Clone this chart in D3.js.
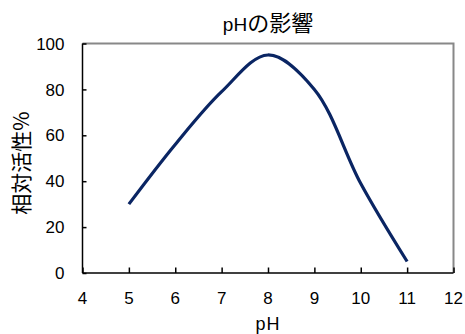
<!DOCTYPE html>
<html>
<head>
<meta charset="utf-8">
<script src="https://cdn.jsdelivr.net/npm/d3@7"></script>
<style>
  html, body { margin: 0; padding: 0; background: #fff; }
  svg { display: block; }
</style>
</head>
<body>
<svg id="chart" width="465" height="334"></svg>
<script>
// pH values and relative activity (%)
const phValues = [5, 6, 7, 8, 9, 10, 11];
const activity = [30, 56, 79, 95, 80, 39, 5];
const xTicks = [4, 5, 6, 7, 8, 9, 10, 11, 12];
const yTicks = [0, 20, 40, 60, 80, 100];

const latin = "'Liberation Sans', Arial, sans-serif";
const cjk = "'Noto Sans CJK JP', 'Liberation Sans', sans-serif";

const svg = d3.select("#chart");
const plot = { left: 82.5, right: 453.5, top: 43.5, bottom: 273 };

const x = d3.scaleLinear().domain([4, 12]).range([plot.left, plot.right]);
const y = d3.scaleLinear().domain([0, 100]).range([plot.bottom, plot.top]);

// plot-area frame: grey top and right edges
svg.append("path")
  .attr("d", `M${plot.left},${plot.top}H${plot.right}V${plot.bottom}`)
  .attr("fill", "none")
  .attr("stroke", "#888")
  .attr("stroke-width", 2);

// y axis, ticks pointing into the plot
const yAxis = svg.append("g")
  .attr("transform", `translate(${plot.left},0)`)
  .call(d3.axisRight(y).tickValues(yTicks).tickSize(4).tickFormat(""));
yAxis.select(".domain").attr("d", `M0,${plot.top}V${plot.bottom}`);
yAxis.selectAll("path, line").attr("stroke", "#000").attr("stroke-width", 1.5);

svg.append("g").selectAll("text")
  .data(yTicks)
  .join("text")
  .attr("x", plot.left - 18)
  .attr("y", d => y(d))
  .attr("dy", "0.36em")
  .attr("text-anchor", "end")
  .attr("font-family", latin)
  .attr("font-size", 17)
  .attr("fill", "#000")
  .text(d => d);

// x axis, ticks pointing up into the plot
const xAxis = svg.append("g")
  .attr("transform", `translate(0,${plot.bottom})`)
  .call(d3.axisTop(x).tickValues(xTicks).tickSize(5.5).tickFormat(""));
xAxis.select(".domain").attr("d", `M${plot.left},0H${plot.right}`);
xAxis.selectAll("path, line").attr("stroke", "#000").attr("stroke-width", 1.5);

svg.append("g").selectAll("text")
  .data(xTicks)
  .join("text")
  .attr("x", d => x(d))
  .attr("y", 304)
  .attr("text-anchor", "middle")
  .attr("font-family", latin)
  .attr("font-size", 17)
  .attr("fill", "#000")
  .text(d => d);

// activity curve
const line = d3.line()
  .x((d, i) => x(phValues[i]))
  .y(d => y(d))
  .curve(d3.curveCatmullRom.alpha(0.5));

svg.append("path")
  .datum(activity)
  .attr("d", line)
  .attr("fill", "none")
  .attr("stroke", "#0a2563")
  .attr("stroke-width", 3.2);

// title
const title = svg.append("text")
  .attr("x", (plot.left + plot.right) / 2)
  .attr("y", 31)
  .attr("text-anchor", "middle")
  .attr("fill", "#000");
title.append("tspan").attr("font-family", latin).attr("font-size", 19).text("pH");
title.append("tspan").attr("font-family", cjk).attr("font-size", 22).text("の影響");

// axis titles
svg.append("text")
  .attr("x", (plot.left + plot.right) / 2)
  .attr("y", 330)
  .attr("text-anchor", "middle")
  .attr("font-family", latin)
  .attr("font-size", 18)
  .attr("letter-spacing", 1)
  .attr("fill", "#000")
  .text("pH");

svg.append("text")
  .attr("transform", "translate(29,163) rotate(-90)")
  .attr("text-anchor", "middle")
  .attr("font-family", cjk)
  .attr("font-size", 21)
  .attr("fill", "#000")
  .text("相対活性%");
</script>
</body>
</html>
